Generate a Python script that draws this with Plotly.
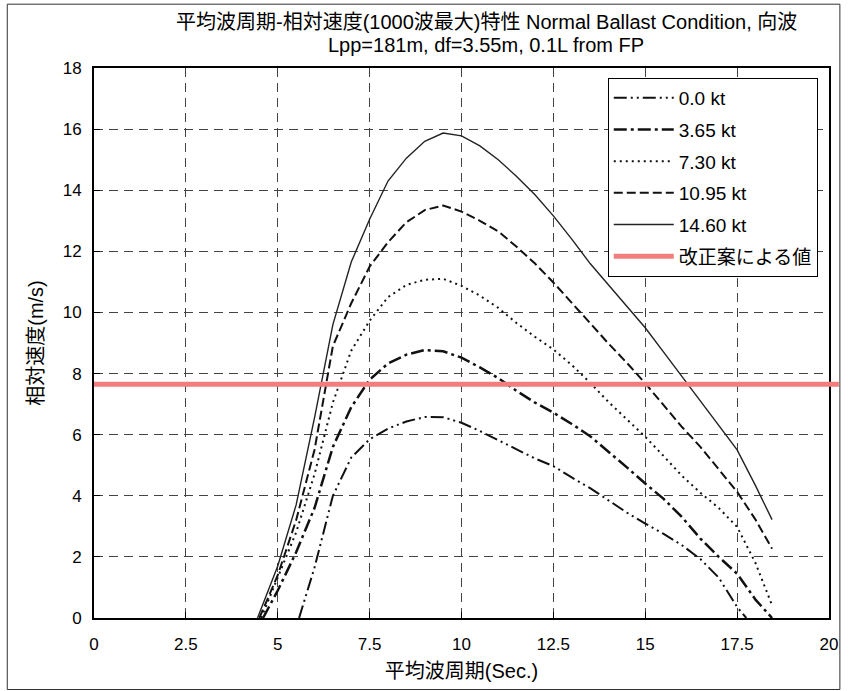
import plotly.graph_objects as go

# Mean wave period (s) and relative velocity (m/s) for each ship speed
t_00 = [5.58, 6.0, 6.5, 7.0, 7.5, 8.0, 8.5, 9.0, 9.5, 10.0, 10.5, 11.0, 11.5, 12.0,
        12.5, 13.0, 13.5, 14.0, 14.5, 15.0, 15.5, 16.0, 16.5, 17.0, 17.5, 17.75]
v_00 = [0.0, 1.65, 4.0, 5.25, 5.85, 6.2, 6.43, 6.58, 6.57, 6.39, 6.12, 5.83, 5.52, 5.22,
        4.97, 4.6, 4.25, 3.85, 3.45, 3.09, 2.75, 2.38, 1.93, 1.32, 0.36, 0.0]

t_365 = [4.6, 5.0, 5.5, 6.0, 6.5, 7.0, 7.5, 8.0, 8.5, 9.0, 9.5, 10.0, 10.5, 11.0, 11.5,
         12.0, 12.5, 13.0, 13.5, 14.0, 14.5, 15.0, 15.5, 16.0, 16.5, 17.0, 17.5, 18.0, 18.45]
v_365 = [0.0, 0.9, 2.15, 3.6, 5.6, 6.9, 7.8, 8.33, 8.62, 8.77, 8.73, 8.52, 8.2, 7.85, 7.43,
         7.05, 6.72, 6.35, 5.95, 5.45, 4.93, 4.4, 3.9, 3.3, 2.6, 2.0, 1.45, 0.6, 0.0]

t_730 = [4.55, 5.0, 5.5, 6.0, 6.5, 7.0, 7.5, 8.0, 8.5, 9.0, 9.5, 10.0, 10.5, 11.0, 11.5,
         12.0, 12.5, 13.0, 13.5, 14.0, 14.5, 15.0, 15.5, 16.0, 16.5, 17.0, 17.5, 18.0, 18.45]
v_730 = [0.0, 1.3, 2.8, 4.7, 7.05, 8.75, 9.73, 10.5, 10.9, 11.07, 11.1, 10.87, 10.55, 10.15, 9.65,
         9.2, 8.79, 8.28, 7.7, 7.07, 6.5, 5.93, 5.3, 4.65, 4.1, 3.6, 2.98, 1.8, 0.42]

t_1095 = [4.5, 5.0, 5.5, 6.0, 6.5, 7.0, 7.5, 8.0, 8.5, 9.0, 9.5, 10.0, 10.5, 11.0, 11.5,
          12.0, 12.5, 13.0, 13.5, 14.0, 14.5, 15.0, 15.5, 16.0, 16.5, 17.0, 17.5, 18.0, 18.45]
v_1095 = [0.0, 1.4, 3.2, 5.5, 8.9, 10.3, 11.5, 12.3, 12.95, 13.35, 13.5, 13.3, 13.0, 12.65, 12.15,
          11.6, 10.98, 10.3, 9.65, 8.98, 8.35, 7.68, 6.95, 6.25, 5.6, 4.88, 4.13, 3.22, 2.27]

t_1460 = [4.45, 5.0, 5.5, 6.0, 6.5, 7.0, 7.5, 8.0, 8.5, 9.0, 9.5, 10.0, 10.5, 11.0, 11.5,
          12.0, 12.5, 13.0, 13.5, 14.0, 14.5, 15.0, 15.5, 16.0, 16.5, 17.0, 17.5, 18.0, 18.45]
v_1460 = [0.0, 1.7, 3.7, 6.55, 9.6, 11.65, 13.05, 14.3, 15.05, 15.6, 15.87, 15.78, 15.45, 15.0, 14.45,
          13.85, 13.16, 12.4, 11.6, 10.9, 10.2, 9.5, 8.7, 7.9, 7.1, 6.3, 5.5, 4.33, 3.22]

# Proposed-rule reference value
rule_level = 7.65
rule_period = [0.0, 20.0]

speed_labels = ["0.0 kt", "3.65 kt", "7.30 kt", "10.95 kt", "14.60 kt"]
rule_label = "改正案による値"

title_line1 = "平均波周期-相対速度(1000波最大)特性 Normal Ballast Condition, 向波"
title_line2 = "Lpp=181m, df=3.55m, 0.1L from FP"

x_ticks = [0, 2.5, 5, 7.5, 10, 12.5, 15, 17.5, 20]
y_ticks = [0, 2, 4, 6, 8, 10, 12, 14, 16, 18]

FONT = "Liberation Sans, Noto Sans CJK JP, sans-serif"
RULE_COLOR = "#f27d7d"

series = [
    (t_00, v_00, dict(color="#111", width=2, dash="13px,4px,2px,4px,2px,4px")),
    (t_365, v_365, dict(color="#111", width=2.5, dash="13px,4px,3px,4px")),
    (t_730, v_730, dict(color="#111", width=2, dash="2px,4px")),
    (t_1095, v_1095, dict(color="#111", width=2, dash="9px,4px")),
    (t_1460, v_1460, dict(color="#222", width=1.4)),
]

fig = go.Figure()
for (tx, vy, ln), name in zip(series, speed_labels):
    fig.add_trace(go.Scatter(x=tx, y=vy, mode="lines", name=name, line=ln,
                             legendgroup=name))

fig.add_trace(go.Scatter(x=rule_period, y=[rule_level, rule_level], mode="lines",
                         name=rule_label, legendgroup=rule_label,
                         line=dict(color=RULE_COLOR, width=5)))

# the reference band runs slightly past the right frame
fig.add_shape(type="line", xref="paper", yref="y", x0=1.0, x1=1.0134,
              y0=rule_level, y1=rule_level, line=dict(color=RULE_COLOR, width=5))

# outer chart frame
fig.add_shape(type="rect", xref="paper", yref="paper", x0=-0.118, x1=1.0148,
              y0=-0.13, y1=1.116, line=dict(color="#333", width=1), layer="below")

# two-line chart title
for txt, ypos in ((title_line1, 1.0835), (title_line2, 1.0417)):
    fig.add_annotation(text=txt, xref="paper", yref="paper", x=0.5336, y=ypos,
                       xanchor="center", yanchor="middle", showarrow=False,
                       font=dict(family=FONT, size=20, color="black"))

axis_common = dict(
    showline=True, linecolor="black", linewidth=2, mirror=True,
    showgrid=True, gridcolor="#444", gridwidth=1, griddash="9px,6px",
    ticks="inside", ticklen=6, tickcolor="black", tickwidth=1,
    zeroline=False,
    tickfont=dict(family=FONT, size=17, color="black"),
    title_font=dict(family=FONT, size=20, color="black"),
)

fig.update_xaxes(range=[0, 20], tickvals=x_ticks, ticktext=[f"{v:g}" for v in x_ticks],
                 ticklabelstandoff=10,
                 title_text="平均波周期(Sec.)", title_standoff=11, **axis_common)
fig.update_yaxes(range=[0, 18], tickvals=y_ticks, ticklabelstandoff=7,
                 title_text="相対速度(m/s)", title_standoff=14, **axis_common)

fig.update_layout(
    width=850, height=691,
    margin=dict(l=94, r=12, t=68, b=72),
    paper_bgcolor="white", plot_bgcolor="white",
    legend=dict(
        x=0.699, y=0.982, xanchor="left", yanchor="top",
        bgcolor="white", bordercolor="black", borderwidth=1,
        font=dict(family=FONT, size=19, color="black"),
        traceorder="grouped", tracegroupgap=4, itemwidth=60,
    ),
    showlegend=True,
)

fig.write_html("out.html")
